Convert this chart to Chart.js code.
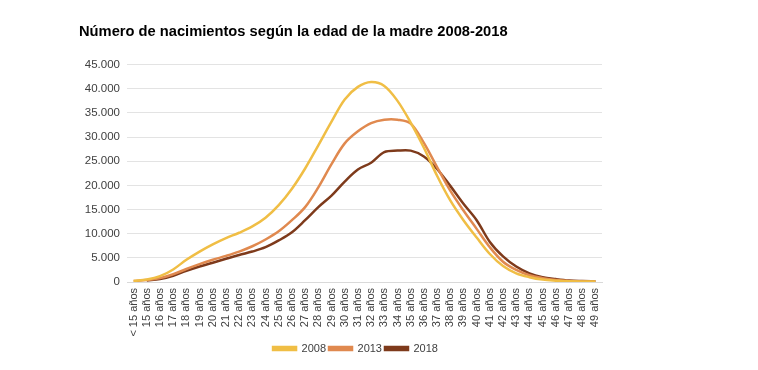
<!DOCTYPE html>
<html lang="es">
<head>
  <meta charset="UTF-8" />
  <title>Nacimientos según la edad de la madre</title>
  <script src="https://cdn.jsdelivr.net/npm/chart.js@4.4.1/dist/chart.umd.min.js"></script>
  <style>
    html, body { margin: 0; padding: 0; background: #fff; }
    #wrap { width: 758px; height: 370px; }
  </style>
</head>
<body>
  <div id="wrap"><canvas id="grafico"></canvas></div>

<script>
// Edades de la madre
const edades = ["< 15 años", "15 años", "16 años", "17 años", "18 años", "19 años", "20 años",
  "21 años", "22 años", "23 años", "24 años", "25 años", "26 años", "27 años", "28 años",
  "29 años", "30 años", "31 años", "32 años", "33 años", "34 años", "35 años", "36 años",
  "37 años", "38 años", "39 años", "40 años", "41 años", "42 años", "43 años", "44 años",
  "45 años", "46 años", "47 años", "48 años", "49 años"];

// Nacimientos por año
const nac2008 = [200, 500, 1200, 2600, 4600, 6300, 7800, 9100, 10200, 11500, 13300, 15900,
  19300, 23500, 28300, 33200, 37800, 40400, 41400, 40600, 37500, 33000, 27800, 22000,
  16900, 12800, 9200, 5800, 3300, 1800, 1000, 500, 280, 150, 100, 80];
const nac2013 = [200, 400, 800, 1600, 2700, 3700, 4600, 5400, 6300, 7400, 8800, 10500,
  12800, 15500, 19600, 24400, 28700, 31200, 32900, 33600, 33600, 32800, 28800, 23800,
  18900, 14800, 11000, 7200, 4200, 2500, 1400, 800, 400, 200, 120, 100];
const nac2018 = [null, 300, 600, 1300, 2300, 3200, 4000, 4800, 5600, 6300, 7200, 8600,
  10300, 12800, 15500, 17900, 20800, 23300, 24700, 26900, 27200, 27200, 26000, 23400,
  19900, 16200, 12800, 8300, 5300, 3200, 1800, 1000, 600, 300, 200, 150];

const ticksY = [0, 5000, 10000, 15000, 20000, 25000, 30000, 35000, 40000, 45000];

function miles(v) {
  return v.toString().replace(/\B(?=(\d{3})+(?!\d))/g, ".");
}

const serie = (label, data, color) => ({
  label: label,
  data: data,
  borderColor: color,
  backgroundColor: color,
  borderWidth: 2.5,
  pointRadius: 0,
  tension: 0.35,
  fill: false
});

const fuente = "Liberation Sans, Arial, sans-serif";

// la leyenda va centrada bajo el área del gráfico, no bajo el título
const moverLeyenda = {
  id: "moverLeyenda",
  afterLayout(chart) {
    chart.legend.left += 15;
    chart.legend.right += 15;
  }
};

new Chart(document.getElementById("grafico"), {
  type: "line",
  data: {
    labels: edades,
    datasets: [
      serie("2008", nac2008, "#F0BE45"),
      serie("2013", nac2013, "#E0894F"),
      serie("2018", nac2018, "#7E3A1B")
    ]
  },
  options: {
    responsive: true,
    maintainAspectRatio: false,
    animation: false,
    layout: { padding: { left: 79, right: 156, top: 0, bottom: 6 } },
    plugins: {
      title: {
        display: true,
        text: "Número de nacimientos según la edad de la madre 2008-2018",
        align: "start",
        color: "#000",
        font: { family: fuente, size: 14.7, weight: "bold" },
        padding: { top: 23, bottom: 24 }
      },
      legend: {
        position: "bottom",
        labels: {
          boxWidth: 23,
          boxHeight: 3,
          padding: 3,
          color: "#404040",
          font: { family: fuente, size: 11 }
        }
      },
      tooltip: { enabled: false }
    },
    scales: {
      x: {
        offset: true,
        afterFit: (s) => { s.height = 58; },
        grid: { display: false, drawTicks: false },
        border: { color: "#d9d9d9" },
        ticks: {
          autoSkip: false,
          maxRotation: 90,
          minRotation: 90,
          color: "#404040",
          padding: 6,
          font: { family: fuente, size: 11 }
        }
      },
      y: {
        min: 0,
        max: 45000,
        afterFit: (s) => { s.width = 48; },
        afterBuildTicks: (s) => { s.ticks = ticksY.map(v => ({ value: v })); },
        grid: { color: "#e3e3e3", drawTicks: false },
        border: { display: false },
        ticks: {
          padding: 7,
          color: "#404040",
          font: { family: fuente, size: 11.5 },
          callback: (v) => miles(v)
        }
      }
    }
  },
  plugins: [moverLeyenda]
});
</script>
</body>
</html>
